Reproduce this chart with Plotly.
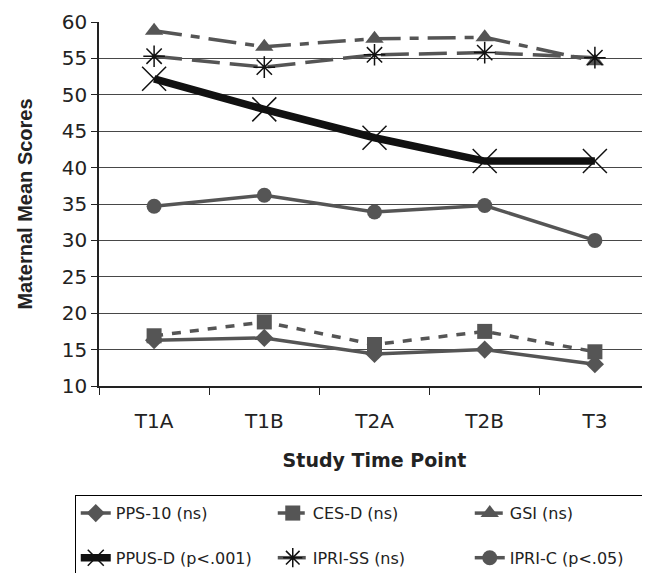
import plotly.graph_objects as go

time_points = ["T1A", "T1B", "T2A", "T2B", "T3"]
pps10 = [16.3, 16.6, 14.4, 15.0, 13.0]
cesd = [16.9, 18.8, 15.7, 17.5, 14.7]
gsi = [58.8, 56.6, 57.7, 57.9, 54.6]
ppusd = [52.2, 48.0, 44.1, 40.9, 40.9]
iprss = [55.3, 53.8, 55.5, 55.8, 55.1]
ipric = [34.7, 36.2, 33.9, 34.8, 30.0]

names = ["PPS-10 (ns)", "CES-D (ns)", "GSI (ns)", "PPUS-D (p<.001)", "IPRI-SS (ns)", "IPRI-C (p<.05)"]

spacer = "<br> "
gray = "#555555"
fig = go.Figure()
fig.add_trace(go.Scatter(x=time_points, y=pps10, name=names[0] + spacer, mode="lines+markers",
                         line=dict(color=gray, width=3.5),
                         marker=dict(symbol="diamond", size=14, color=gray)))
fig.add_trace(go.Scatter(x=time_points, y=cesd, name=names[1] + spacer, mode="lines+markers",
                         line=dict(color=gray, width=3.5, dash="9px,9px"),
                         marker=dict(symbol="square", size=15, color=gray)))
fig.add_trace(go.Scatter(x=time_points, y=gsi, name=names[2] + spacer, mode="lines+markers",
                         line=dict(color=gray, width=3.5, dash="28px,9px,9px,9px"),
                         marker=dict(symbol="triangle-up", size=16, color=gray)))
fig.add_trace(go.Scatter(x=time_points, y=ppusd, name=names[3] + spacer, mode="lines+markers",
                         line=dict(color="#111111", width=7.5),
                         marker=dict(symbol="x-thin-open", size=24, color="#111111",
                                     line=dict(width=1.5, color="#111111"))))
fig.add_trace(go.Scatter(x=time_points, y=iprss, name=names[4] + spacer, mode="lines+markers",
                         line=dict(color=gray, width=3.5, dash="28px,10px"),
                         marker=dict(symbol="asterisk-open", size=18, color="#111111",
                                     line=dict(width=1.5, color="#111111"))))
fig.add_trace(go.Scatter(x=time_points, y=ipric, name=names[5] + spacer, mode="lines+markers",
                         line=dict(color=gray, width=3.5),
                         marker=dict(symbol="circle", size=15, color=gray)))

fig.update_layout(
    width=642, height=565,
    margin=dict(l=91, r=0, t=14, b=187, autoexpand=False),
    plot_bgcolor="white", paper_bgcolor="white",
    font=dict(family="DejaVu Sans", color="#222222"),
    showlegend=True,
    legend=dict(orientation="h", x=-0.044, xanchor="left", y=-0.30, yanchor="top",
                bordercolor="#000000", borderwidth=1, entrywidth=152, valign="top",
                font=dict(size=16, color="#222222"),
                traceorder="normal"),
)
fig.update_xaxes(range=[-0.5, 4.5], showline=True, linecolor="#222222", linewidth=1.5,
                 ticks="outside", tickson="boundaries", ticklen=7, tickcolor="#222222",
                 tickfont=dict(size=20), showgrid=False, ticklabelstandoff=16,
                 title=dict(text="<b>Study Time Point</b>", font=dict(size=19), standoff=22))
fig.update_yaxes(range=[10, 60], dtick=5, showline=True, linecolor="#222222", linewidth=1.5,
                 ticks="outside", ticklen=6, tickcolor="#222222",
                 tickfont=dict(size=20), showgrid=True, gridcolor="#484848", gridwidth=1,
                 title=dict(text="<b>Maternal Mean Scores</b>",
                            font=dict(size=20, family="Liberation Sans, Arial"), standoff=24))

fig.write_html("out.html")
